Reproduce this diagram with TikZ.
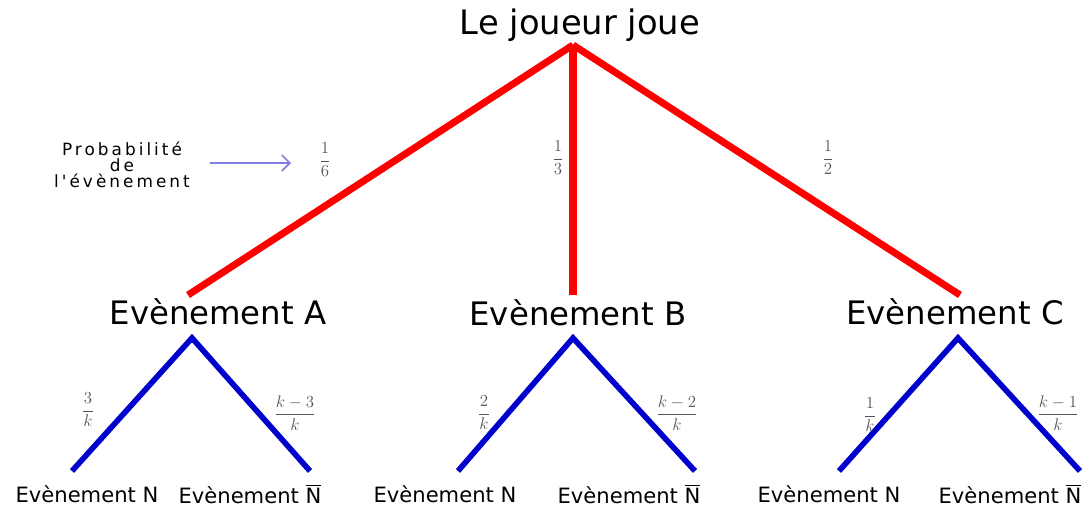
\documentclass[tikz,border=0pt]{standalone}
\usepackage{amsmath}
\usepackage{fontspec}
\setmainfont{DejaVu Sans}
\newfontfamily\probfont[LetterSpace=18]{DejaVu Sans}
\usetikzlibrary{positioning,arrows.meta}
\definecolor{cRed}{HTML}{FF0000}
\definecolor{cBlue}{HTML}{0000CC}
\definecolor{cNote}{HTML}{8080E0}
\definecolor{cFrac}{HTML}{555555}

\begin{document}
\begin{tikzpicture}[
    x=0.025cm,y=-0.025cm,
    root/.style ={font=\fontsize{24}{26}\selectfont,inner sep=0pt},
    evt/.style  ={font=\fontsize{23}{25}\selectfont,inner sep=0pt},
    leaf/.style ={font=\fontsize{15}{17}\selectfont,inner sep=0pt},
    frac/.style ={font=\fontsize{12}{14}\selectfont,cFrac,inner sep=0pt},
    redb/.style ={cRed,line width=5pt},
    blueb/.style={cBlue,line width=4pt},
    note/.style ={font=\probfont\fontsize{12}{11.5}\selectfont,align=center,inner sep=0pt},
  ]
  \useasboundingbox (0,0) rectangle (1085,509);

  % ---------- LEVEL 1 ----------
  \node[root] (jeu) at (580,25) {Le joueur joue};
  \coordinate (r) at (573,45);

  \node[evt] (evA) at (218,312) {Evènement A};
  \node[evt] (evB) at (578,313) {Evènement B};
  \node[evt] (evC) at (955,312) {Evènement C};
  \coordinate (a) at (188,295);
  \coordinate (b) at (573,295);
  \coordinate (c) at (960,295);

  \draw[redb] (r) -- (a);
  \draw[redb] (r) -- (b);
  \draw[redb] (r) -- (c);

  \node[frac] (pA) at (325,160) {$\dfrac{1}{6}$};
  \node[frac] (pB) at (558,158) {$\dfrac{1}{3}$};
  \node[frac] (pC) at (828,158) {$\dfrac{1}{2}$};

  % ---------- LEVEL 2 ----------
  \foreach \e/\tx/\lx/\rx in {A/192/72/310, B/573/458/695, C/958/839/1080}{
    \coordinate (\e t) at (\tx,338);
    \coordinate (\e l) at (\lx,471);
    \coordinate (\e r) at (\rx,471);
    \draw[blueb] (\e l) -- (\e t) -- (\e r);
  }

  \node[frac] (qA) at (88,410)   {$\dfrac{3}{k}$};
  \node[frac] (qAb) at (295,413) {$\dfrac{k-3}{k}$};
  \node[frac] (qB) at (484,413)  {$\dfrac{2}{k}$};
  \node[frac] (qBb) at (677,413) {$\dfrac{k-2}{k}$};
  \node[frac] (qC) at (870,415)  {$\dfrac{1}{k}$};
  \node[frac] (qCb) at (1058,413){$\dfrac{k-1}{k}$};

  \node[leaf] (nA)  at (87,494)  {Evènement N};
  \node[leaf] (nAb) at (250,494) {Evènement $\overline{\mbox{N}}$};
  \node[leaf] (nB)  at (445,494) {Evènement N};
  \node[leaf] (nBb) at (629,494) {Evènement $\overline{\mbox{N}}$};
  \node[leaf] (nC)  at (829,494) {Evènement N};
  \node[leaf] (nCb) at (1010,494){Evènement $\overline{\mbox{N}}$};

  % ---------- NOTE ----------
  \node[note] (prob) at (122,165) {Probabilité\\de\\l'évènement};
  \coordinate (ps) at (210,163);
  \coordinate (pt) at (291,163);
  \draw[cNote,line width=1.2pt,-{Straight Barb[length=2mm]}] (ps) -- (pt);

\end{tikzpicture}
\end{document}
